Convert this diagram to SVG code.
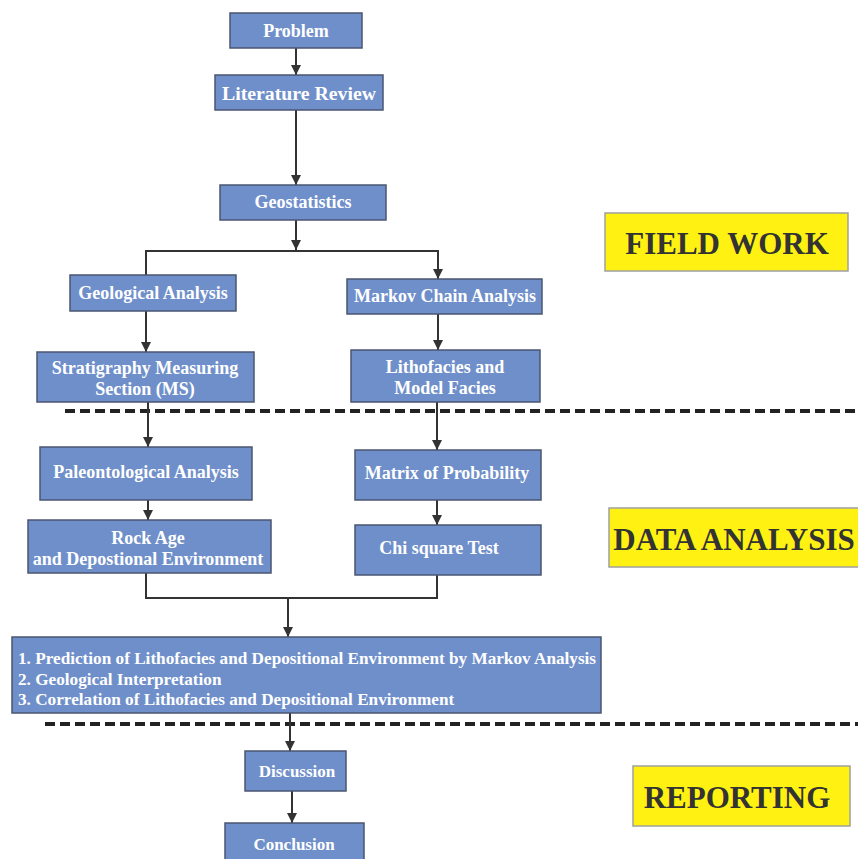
<svg xmlns="http://www.w3.org/2000/svg" width="858" height="859" viewBox="0 0 858 859">
<defs>
<marker id="ah" viewBox="0 0 10 10" refX="10" refY="5" markerWidth="10" markerHeight="10" markerUnits="userSpaceOnUse" orient="auto">
<path d="M0,0 L10,5 L0,10 z" fill="#333"/>
</marker>
<style>
.n{fill:#6F8FCA;stroke:#4A5570;stroke-width:1.5}
.t{font-family:"Liberation Serif","Times New Roman",serif;font-weight:bold;font-size:18px;fill:#fff;text-anchor:middle}
.tl{font-family:"Liberation Serif","Times New Roman",serif;font-weight:bold;font-size:17.2px;fill:#fff}
.c{fill:none;stroke:#333;stroke-width:2}
.d{fill:none;stroke:#222;stroke-width:4;stroke-dasharray:10,5}
.y{fill:#FFF212;stroke:#A0A0A0;stroke-width:1.5}
.yt{font-family:"Liberation Serif","Times New Roman",serif;font-weight:bold;font-size:31px;fill:#333;text-anchor:middle}
</style>
</defs>
<rect width="858" height="859" fill="#fff"/>
<g id="dividers">
<line class="d" x1="65" y1="411" x2="858" y2="411"/>
<line class="d" x1="45" y1="724" x2="858" y2="724"/>
</g>
<g id="connectors">
<line class="c" x1="296" y1="48" x2="296" y2="75" marker-end="url(#ah)"/>
<line class="c" x1="296" y1="110" x2="296" y2="185" marker-end="url(#ah)"/>
<line class="c" x1="296" y1="220" x2="296" y2="250" marker-end="url(#ah)"/>
<polyline class="c" points="146,275 146,251 438,251 438,279" marker-end="url(#ah)"/>
<line class="c" x1="146" y1="311" x2="146" y2="352" marker-end="url(#ah)"/>
<line class="c" x1="438" y1="314" x2="438" y2="350" marker-end="url(#ah)"/>
<line class="c" x1="148" y1="402" x2="148" y2="447" marker-end="url(#ah)"/>
<line class="c" x1="437" y1="402" x2="437" y2="450" marker-end="url(#ah)"/>
<line class="c" x1="148" y1="500" x2="148" y2="520" marker-end="url(#ah)"/>
<line class="c" x1="437" y1="500" x2="437" y2="525" marker-end="url(#ah)"/>
<polyline class="c" points="146,573 146,598 437,598 437,575"/>
<line class="c" x1="288" y1="598" x2="288" y2="637" marker-end="url(#ah)"/>
<line class="c" x1="290" y1="713" x2="290" y2="751" marker-end="url(#ah)"/>
<line class="c" x1="292" y1="791" x2="292" y2="823" marker-end="url(#ah)"/>
</g>
<g id="problem"><rect class="n" x="230" y="13" width="132" height="35"/><text class="t" x="296" y="37">Problem</text></g>
<g id="literature-review"><rect class="n" x="215" y="75" width="168" height="35"/><text class="t" x="299" y="100" style="font-size:19.8px">Literature Review</text></g>
<g id="geostatistics"><rect class="n" x="220" y="185" width="166" height="35"/><text class="t" x="303" y="208">Geostatistics</text></g>
<g id="geological-analysis"><rect class="n" x="70" y="275" width="166" height="36"/><text class="t" x="153" y="299">Geological Analysis</text></g>
<g id="markov-chain-analysis"><rect class="n" x="347" y="279" width="195" height="35"/><text class="t" x="445" y="302">Markov Chain Analysis</text></g>
<g id="stratigraphy"><rect class="n" x="37" y="352" width="217" height="50"/><text class="t" x="145" y="374">Stratigraphy Measuring</text><text class="t" x="145" y="395">Section (MS)</text></g>
<g id="lithofacies"><rect class="n" x="351" y="350" width="189" height="52"/><text class="t" x="445" y="373">Lithofacies and</text><text class="t" x="445" y="394">Model Facies</text></g>
<g id="paleontological-analysis"><rect class="n" x="40" y="447" width="212" height="53"/><text class="t" x="146" y="478">Paleontological Analysis</text></g>
<g id="matrix-of-probability"><rect class="n" x="355" y="450" width="186" height="50"/><text class="t" x="447" y="479">Matrix of Probability</text></g>
<g id="rock-age"><rect class="n" x="28" y="520" width="243" height="53"/><text class="t" x="148" y="544">Rock Age</text><text class="t" x="148" y="565">and Depostional Environment</text></g>
<g id="chi-square-test"><rect class="n" x="355" y="525" width="186" height="50"/><text class="t" x="439" y="554">Chi square Test</text></g>
<g id="results"><rect class="n" x="12" y="637" width="589" height="76"/>
<text class="tl" x="18" y="664">1. Prediction of Lithofacies and Depositional Environment by Markov Analysis</text>
<text class="tl" x="18" y="685">2. Geological Interpretation</text>
<text class="tl" x="18" y="705">3. Correlation of Lithofacies and Depositional Environment</text></g>
<g id="discussion"><rect class="n" x="245" y="751" width="101" height="40"/><text class="t" x="297" y="777" style="font-size:17px">Discussion</text></g>
<g id="conclusion"><rect class="n" x="225" y="823" width="139" height="40"/><text class="t" x="294" y="850" style="font-size:17px">Conclusion</text></g>
<g id="field-work"><rect class="y" x="605" y="213" width="243" height="58"/><text class="yt" x="727" y="254">FIELD WORK</text></g>
<g id="data-analysis"><rect class="y" x="609" y="508" width="252" height="59"/><text class="yt" x="734" y="550">DATA ANALYSIS</text></g>
<g id="reporting"><rect class="y" x="633" y="766" width="217" height="60"/><text class="yt" x="737" y="808">REPORTING</text></g>
</svg>
